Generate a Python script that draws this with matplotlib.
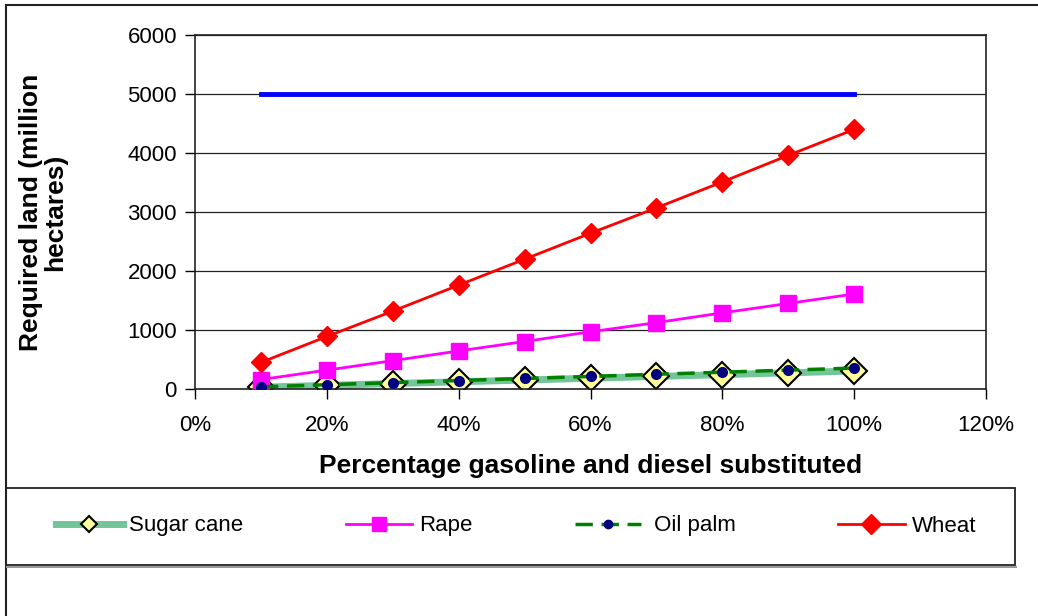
import matplotlib.pyplot as plt
from matplotlib.lines import Line2D
from matplotlib.patches import Rectangle
from matplotlib.ticker import PercentFormatter

plt.rcParams['font.family'] = ['Liberation Sans', 'DejaVu Sans']

# share of gasoline/diesel replaced
substitution = [0.1, 0.2, 0.3, 0.4, 0.5, 0.6, 0.7, 0.8, 0.9, 1.0]

# required land, million hectares
sugar_cane = [30, 62, 92, 122, 152, 183, 213, 244, 274, 305]
rape = [160, 320, 480, 645, 805, 970, 1125, 1290, 1450, 1610]
oil_palm = [36, 72, 108, 143, 178, 213, 250, 285, 320, 355]
wheat = [450, 890, 1320, 1760, 2200, 2640, 3070, 3510, 3960, 4400]
available_land = [5000] * len(substitution)

series_names = ['Sugar cane', 'Rape', ' Oil palm', 'Wheat']
y_ticks = [0, 1000, 2000, 3000, 4000, 5000, 6000]
x_ticks = [0.0, 0.2, 0.4, 0.6, 0.8, 1.0, 1.2]

styles = [
    dict(color='#74c49a', linewidth=5, marker='D', markerfacecolor='#ffff99',
         markeredgecolor='black', markeredgewidth=1.5),
    dict(color='#ff00ff', linewidth=2, marker='s', markerfacecolor='#ff00ff',
         markeredgecolor='#ff00ff'),
    dict(color='#008000', linewidth=2.5, linestyle=(0, (5, 2.5)), marker='o',
         markerfacecolor='#000080', markeredgecolor='#000080'),
    dict(color='#ff0000', linewidth=2, marker='D', markerfacecolor='#ff0000',
         markeredgecolor='#ff0000'),
]
plot_sizes = [13, 11, 7, 10]
legend_sizes = [8, 10, 6, 10]

W, H = 1038, 616
fig = plt.figure(figsize=(W / 100, H / 100), dpi=100)
ax = fig.add_axes([195 / W, 1 - 389 / H, (986 - 195) / W, (389 - 35) / H])

ax.set_xlim(0, 1.2)
ax.set_ylim(0, 6000)
ax.set_xticks(x_ticks)
ax.set_yticks(y_ticks)
ax.xaxis.set_major_formatter(PercentFormatter(1.0, decimals=0))
ax.tick_params(labelsize=16, length=7, width=1, color='black', direction='out')
ax.tick_params(axis='x', pad=12)
ax.tick_params(axis='y', pad=6)
ax.grid(axis='y', color='#222222', linewidth=0.9, zorder=0)
for s in ax.spines.values():
    s.set_color('#222222')
    s.set_linewidth(1.2)

# crop series
for values, st, ms, z in zip([sugar_cane, rape, oil_palm, wheat], styles,
                             plot_sizes, [2, 3, 4, 5]):
    ax.plot(substitution, values, markersize=ms, zorder=z, **st)

# available land reference line
ax.plot(substitution, available_land, color='#0000ff', linewidth=3.5, zorder=5)

ax.set_xlabel('Percentage gasoline and diesel substituted', fontsize=19,
              fontweight='bold', labelpad=13)
ax.set_ylabel('Required land (million\nhectares)', fontsize=19,
              fontweight='bold', linespacing=1.0)
ax.yaxis.set_label_coords(-0.162, 0.5)

# outer chart frame (left and top edges)
fig.add_artist(Line2D([6 / W, 6 / W], [0, 1 - 5 / H], color='#222222', linewidth=1.5))
fig.add_artist(Line2D([6 / W, 1], [1 - 5 / H, 1 - 5 / H], color='#222222', linewidth=1.5))

# legend box
fig.add_artist(Line2D([7 / W, 1016 / W], [1 - 567 / H, 1 - 567 / H], color='#999999', linewidth=1.5))
fig.add_artist(Rectangle((6 / W, 1 - 565 / H), (1015 - 6) / W, (565 - 488) / H,
                         transform=fig.transFigure, fill=True, facecolor='white',
                         edgecolor='#222222', linewidth=1.3))
handles = [Line2D([], [], markersize=ms, **st) for st, ms in zip(styles, legend_sizes)]
fig.legend(handles, series_names, loc='center', ncol=4, frameon=False,
           bbox_to_anchor=(516 / W, 1 - 526 / H), fontsize=16,
           handlelength=3.0, handletextpad=0.3, columnspacing=4.6)

fig.savefig('out.png', dpi=100)
